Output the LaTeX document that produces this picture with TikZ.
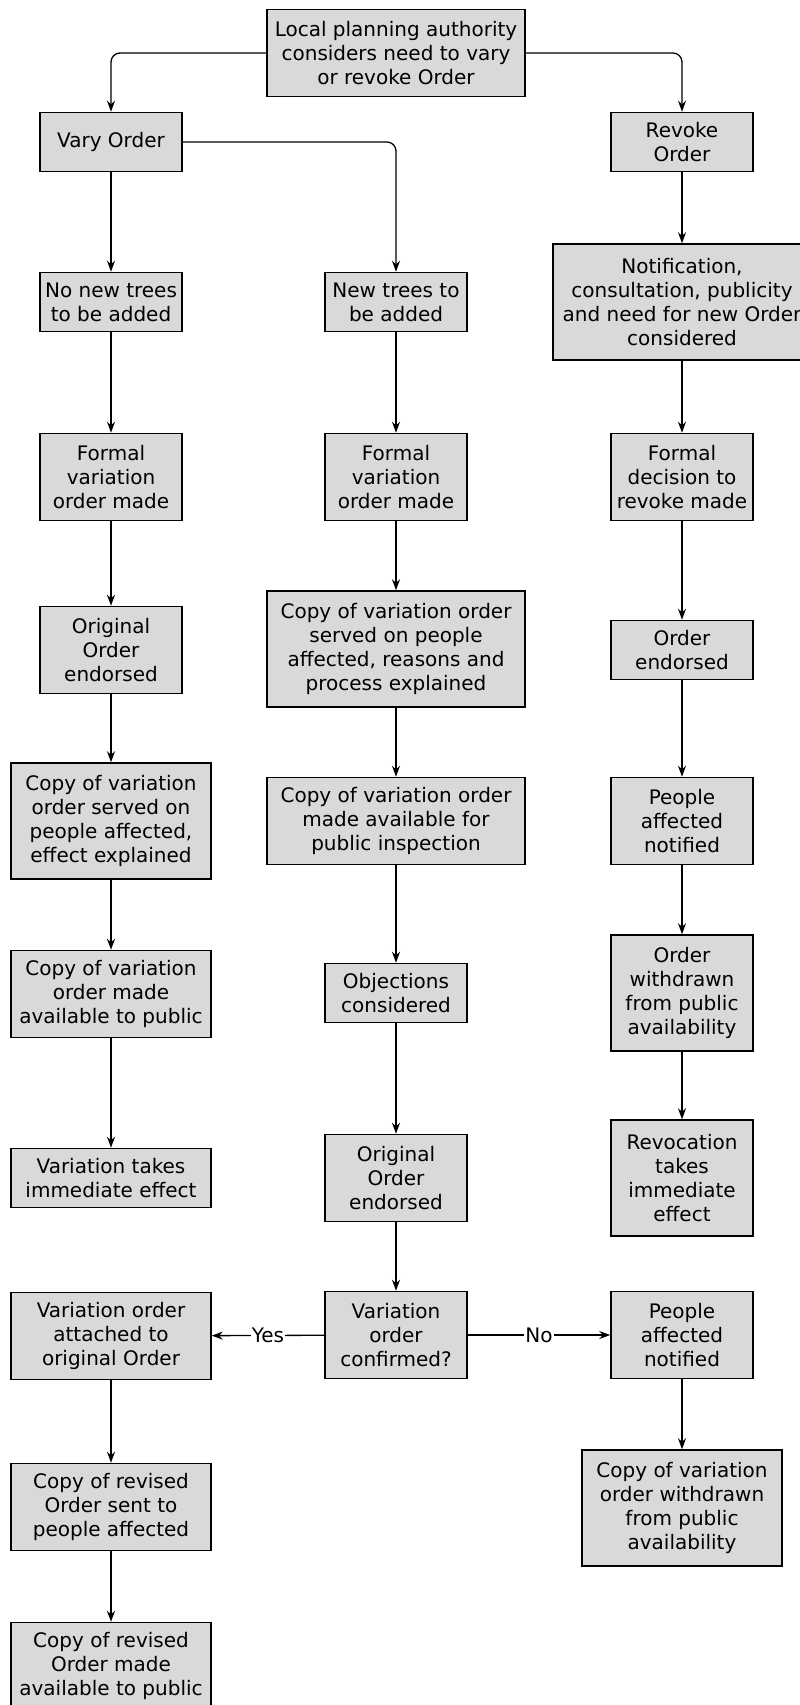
\documentclass[tikz,border=0pt]{standalone}
\usepackage{fontspec}
\setmainfont{DejaVu Sans}
\usetikzlibrary{arrows.meta,positioning}

\begin{document}
\begin{tikzpicture}[x=1pt, y=-1pt, >={Stealth[length=11pt,width=8pt]},
 every node/.style={draw, line width=1.5pt, fill=black!15, align=center, inner xsep=3pt,
 inner ysep=2pt, font=\fontsize{20pt}{24pt}\selectfont},
 narrow/.style={minimum width=142pt}, medium/.style={minimum width=200pt}, wide/.style={minimum width=258pt},
 two/.style={minimum height=59pt}, three/.style={minimum height=87pt}, four/.style={minimum height=116pt},
 flow/.style={->, line width=1.3pt}, answer/.style={draw=none, fill=white, inner xsep=1pt}]
\useasboundingbox (0,0) rectangle (800,1705);
\node[wide, three] (top) at (396,53) {Local planning authority\\considers need to vary\\or revoke Order};
\node[narrow, two] (vary) at (111,142) {Vary Order};
\node[narrow, two] (revoke) at (682,142) {Revoke\\Order};
\node[narrow, two] (nonew) at (111,302) {No new trees\\to be added};
\node[narrow, two] (newtrees) at (396,302) {New trees to\\be added};
\node[wide, four] (notif) at (682,302) {Notification,\\consultation, publicity\\and need for new Order\\considered};
\node[narrow, three] (formL) at (111,477) {Formal\\variation\\order made};
\node[narrow, three] (formM) at (396,477) {Formal\\variation\\order made};
\node[narrow, three] (decide) at (682,477) {Formal\\decision to\\revoke made};
\node[narrow, three] (origL) at (111,650) {Original\\Order\\endorsed};
\node[wide, four] (servedM) at (396,649) {Copy of variation order\\served on people\\affected, reasons and\\process explained};
\node[narrow, two] (endorsed) at (682,650) {Order\\endorsed};
\node[medium, four] (servedL) at (111,821) {Copy of variation\\order served on\\people affected,\\effect explained};
\node[wide, three] (inspect) at (396,821) {Copy of variation order\\made available for\\public inspection};
\node[narrow, three] (notifyA) at (682,821) {People\\affected\\notified};
\node[medium, three] (publicL) at (111,994) {Copy of variation\\order made\\available to public};
\node[narrow, two] (objections) at (396,993) {Objections\\considered};
\node[narrow, four] (withdrawn) at (682,993) {Order\\withdrawn\\from public\\availability};
\node[medium, two] (effectL) at (111,1178) {Variation takes\\immediate effect};
\node[narrow, three] (origM) at (396,1178) {Original\\Order\\endorsed};
\node[narrow, four] (revocation) at (682,1178) {Revocation\\takes\\immediate\\effect};
\node[medium, three] (attached) at (111,1336) {Variation order\\attached to\\original Order};
\node[narrow, three] (confirmed) at (396,1335) {Variation\\order\\confirmed?};
\node[narrow, three] (notifyB) at (682,1335) {People\\affected\\notified};
\node[medium, three] (sent) at (111,1507) {Copy of revised\\Order sent to\\people affected};
\node[medium, four] (withdrawnB) at (682,1508) {Copy of variation\\order withdrawn\\from public\\availability};
\node[medium, three] (revpublic) at (111,1666) {Copy of revised\\Order made\\available to public};

\draw[flow, rounded corners=9pt] (top.west) -| (vary.north);
\draw[flow, rounded corners=9pt] (top.east) -| (revoke.north);
\draw[flow, rounded corners=9pt] (vary.east) -| (newtrees.north);
\draw[flow] (vary) edge (nonew) (nonew) edge (formL) (formL) edge (origL) (origL) edge (servedL)
 (servedL) edge (publicL) (publicL) edge (effectL);
\draw[flow] (newtrees) edge (formM) (formM) edge (servedM) (servedM) edge (inspect)
 (inspect) edge (objections) (objections) edge (origM) (origM) edge (confirmed);
\draw[flow] (revoke) edge (notif) (notif) edge (decide) (decide) edge (endorsed)
 (endorsed) edge (notifyA) (notifyA) edge (withdrawn) (withdrawn) edge (revocation);
\draw[flow] (confirmed) -- node[answer] {Yes} (attached);
\draw[flow] (confirmed) -- node[answer] {No} (notifyB);
\draw[flow] (attached) edge (sent) (sent) edge (revpublic) (notifyB) edge (withdrawnB);
\end{tikzpicture}
\end{document}
